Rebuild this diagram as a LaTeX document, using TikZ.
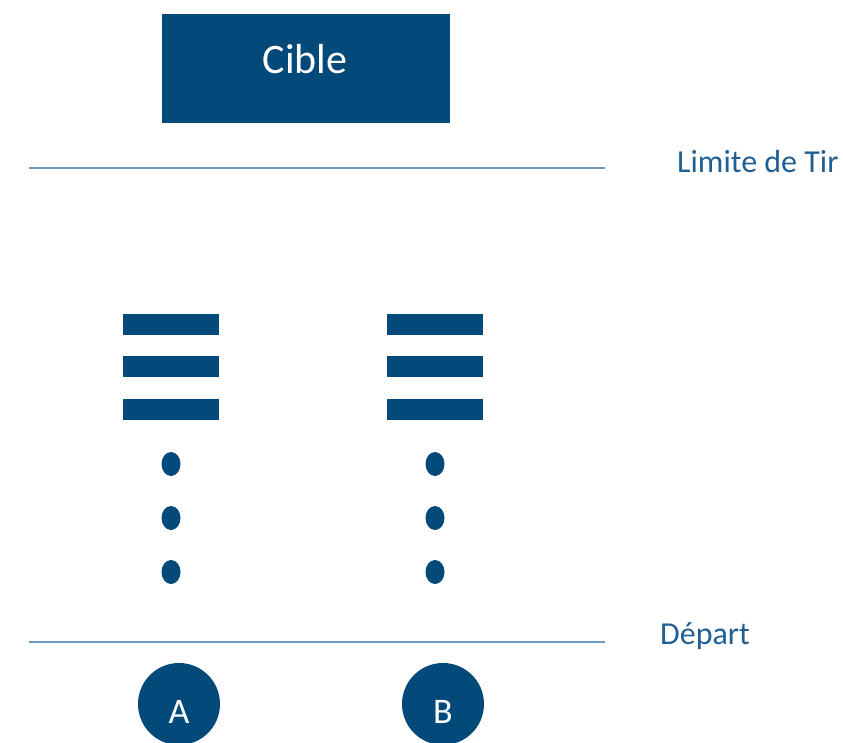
\documentclass[tikz,border=0pt]{standalone}
\usepackage{fontspec}
\setmainfont{Carlito}
\usetikzlibrary{shapes.geometric}
\definecolor{navy}{HTML}{034A7A}
\definecolor{linec}{HTML}{6A9AC0}
\definecolor{labc}{HTML}{1F5F92}
\begin{document}
\begin{tikzpicture}[x=1pt,y=-1pt,
  block/.style={fill=navy,draw=none,inner sep=0pt,minimum width=96pt,minimum height=21pt},
  dotnode/.style={ellipse,fill=navy,draw=none,inner sep=0pt,minimum width=19pt,minimum height=24pt},
  player/.style={circle,fill=navy,draw=none,inner sep=0pt,minimum size=82pt},
  ptext/.style={text=white,inner sep=0pt,font=\fontsize{36}{36}\selectfont},
  rule/.style={draw=linec,line width=2.4pt},
  lab/.style={text=labc,font=\fontsize{32}{32}\selectfont,inner sep=0pt,anchor=west}]
\useasboundingbox (0,0) rectangle (843,742);
\clip (0,0) rectangle (843,742);
\node[fill=navy,draw=none,minimum width=288pt,minimum height=109pt,inner sep=0pt] (cible) at (306,68.5) {};
\node[text=white,inner sep=0pt,font=\fontsize{42}{42}\selectfont] (cibletext) at (305,59) {Cible};
\coordinate (l1a) at (29,168);
\coordinate (l1b) at (605,168);
\draw[rule] (l1a) -- (l1b);
\node[lab] (limite) at (677,162) {Limite de Tir};
\coordinate (l2a) at (29,642);
\coordinate (l2b) at (605,642);
\draw[rule] (l2a) -- (l2b);
\node[lab] (depart) at (660,636) {Départ};
\foreach \c/\x in {a/171,b/435}{
  \node[block] (\c1) at (\x,324) {};
  \node[block] (\c2) at (\x,366.5) {};
  \node[block] (\c3) at (\x,409.5) {};
  \node[dotnode] (\c d1) at (\x,464) {};
  \node[dotnode] (\c d2) at (\x,518) {};
  \node[dotnode] (\c d3) at (\x,572) {};
}
\node[player] (A) at (179,704) {};
\node[player] (B) at (443,704) {};
\node[ptext] (Atext) at (179,712) {A};
\node[ptext] (Btext) at (443,712) {B};
\end{tikzpicture}
\end{document}
